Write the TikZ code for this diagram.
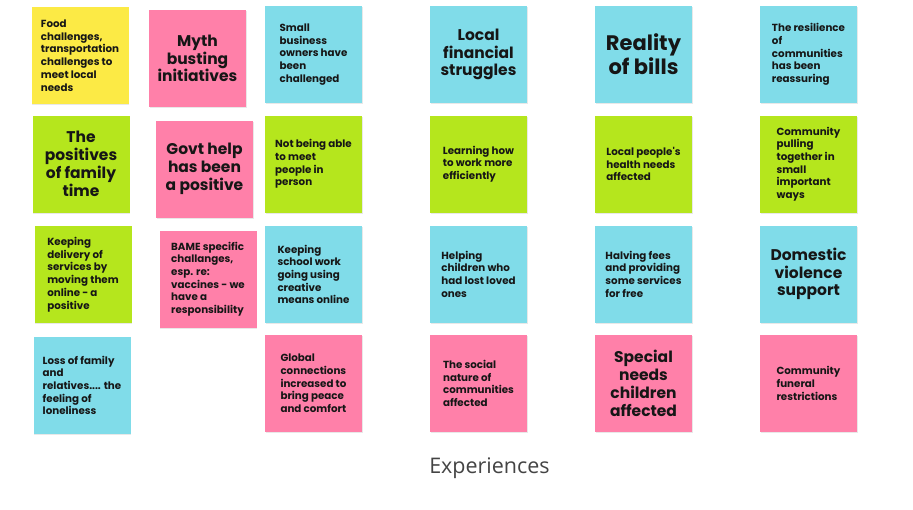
\documentclass[tikz,border=0pt]{standalone}
\usepackage{fontspec}
\usepackage{xcolor}
\usepackage{tikz}
\usetikzlibrary{shadows}
\newfontfamily\notefont{Poppins}
\newfontfamily\capfont{Open Sans}
\definecolor{nYellow}{HTML}{FCEA45}
\definecolor{nPink}{HTML}{FF80A9}
\definecolor{nBlue}{HTML}{80DCE9}
\definecolor{nGreen}{HTML}{B5E61D}
\definecolor{nInk}{HTML}{161616}
\definecolor{capInk}{HTML}{444444}

\begin{document}
\begin{tikzpicture}[x=1pt, y=-1pt,
          note/.style={minimum width=97pt, minimum height=97pt, inner sep=0pt,
            text=nInk, drop shadow={shadow xshift=0.8pt, shadow yshift=-1.2pt, opacity=0.18}},
          small/.style={note, align=left, font=\notefont\bfseries\fontsize{10.3}{12.7}\selectfont},
          big/.style={note, align=center, font=\notefont\bfseries\fontsize{15.5}{17.8}\selectfont}]
        \useasboundingbox (0,0) rectangle (913,509);
        % left block
        \node[small, fill=nYellow] (food) at (80,55.5) {Food\\challenges,\\transportation\\challenges to\\meet local\\needs};
        \node[big, fill=nPink] (myth) at (197.5,58.5) {Myth\\busting\\initiatives};
        \node[small, fill=nBlue] (biz) at (313.5,54.5) {Small\\business\\owners have\\been\\challenged};
        \node[big, fill=nGreen] (family) at (81,164) {The\\positives\\of family\\time};
        \node[big, fill=nPink] (govt) at (204.5,169) {Govt help\\has been\\a positive};
        \node[small, fill=nGreen] (meet) at (313.5,164) {Not being able\\to meet\\people in\\person};
        \node[small, fill=nGreen] (online) at (83,274.5) {Keeping\\delivery of\\services by\\moving them\\online - a\\positive};
        \node[small, fill=nPink] (bame) at (208,279) {BAME specific\\challanges,\\esp. re:\\vaccines - we\\have a\\responsibility};
        \node[small, fill=nBlue] (school) at (313.5,274.5) {Keeping\\school work\\going using\\creative\\means online};
        \node[small, fill=nBlue] (loss) at (82,385.5) {Loss of family\\and\\relatives.... the\\feeling of\\loneliness};
        \node[small, fill=nPink] (global) at (313.5,383.5) {Global\\connections\\increased to\\bring peace\\and comfort};
        % right block
        \node[big, fill=nBlue] (money) at (478.5,54.5) {Local\\financial\\struggles};
        \node[big, fill=nBlue, font=\notefont\bfseries\fontsize{21}{24}\selectfont] (bills) at (643.5,54.5) {Reality\\of bills};
        \node[small, fill=nBlue] (resil) at (808.5,54.5) {The resilience\\of\\communities\\has been\\reassuring};
        \node[small, fill=nGreen] (learn) at (478.5,164) {Learning how\\to work more\\efficiently};
        \node[small, fill=nGreen] (health) at (643.5,164) {Local people's\\health needs\\affected};
        \node[small, fill=nGreen] (pull) at (808.5,164) {Community\\pulling\\together in\\small\\important\\ways};
        \node[small, fill=nBlue] (kids) at (478.5,274) {Helping\\children who\\had lost loved\\ones};
        \node[small, fill=nBlue] (fees) at (643.5,274) {Halving fees\\and providing\\some services\\for free};
        \node[big, fill=nBlue] (abuse) at (808.5,274) {Domestic\\violence\\support};
        \node[small, fill=nPink] (social) at (478.5,383.5) {The social\\nature of\\communities\\affected};
        \node[big, fill=nPink] (needs) at (643.5,383.5) {Special\\needs\\children\\affected};
        \node[small, fill=nPink] (funeral) at (808.5,383.5) {Community\\funeral\\restrictions};
        \node[text=capInk, font=\capfont\fontsize{21.5}{24}\selectfont] (title) at (489.5,468.5) {Experiences};
      \end{tikzpicture}
\end{document}
